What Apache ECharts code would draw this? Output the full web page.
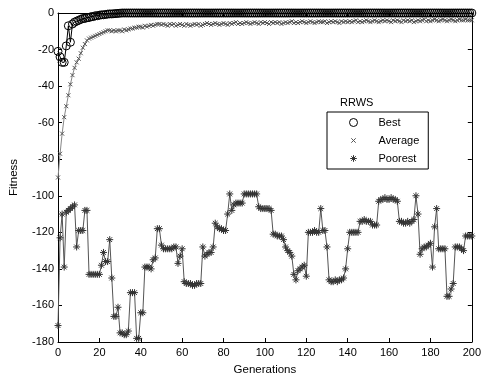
<!DOCTYPE html>
<html>
<head>
<meta charset="utf-8">
<script src="https://cdn.jsdelivr.net/npm/echarts@6/dist/echarts.min.js"></script>
<style>
html, body { margin: 0; padding: 0; background: #fff; }
#chart { width: 484px; height: 381px; }
</style>
</head>
<body>
<div id="chart"></div>
<script>
// generations 0..200, one value per generation
var best = [
	-21, -24, -27, -27, -18, -7, -16, -6, -5, -4.5, -4, -3.5, -3, -3, -2.5, -2.5, -2, -2, -1.5, -1.5,
	-1.2, -1, -1, -0.8, -0.6, -0.5, -0.5, -0.4, -0.3, -0.2, -0.1, 0, 0, 0, 0, 0, 0, 0, 0, 0,
	0, 0, 0, 0, 0, 0, 0, 0, 0, 0, 0, 0, 0, 0, 0, 0, 0, 0, 0, 0,
	0, 0, 0, 0, 0, 0, 0, 0, 0, 0, 0, 0, 0, 0, 0, 0, 0, 0, 0, 0,
	0, 0, 0, 0, 0, 0, 0, 0, 0, 0, 0, 0, 0, 0, 0, 0, 0, 0, 0, 0,
	0, 0, 0, 0, 0, 0, 0, 0, 0, 0, 0, 0, 0, 0, 0, 0, 0, 0, 0, 0,
	0, 0, 0, 0, 0, 0, 0, 0, 0, 0, 0, 0, 0, 0, 0, 0, 0, 0, 0, 0,
	0, 0, 0, 0, 0, 0, 0, 0, 0, 0, 0, 0, 0, 0, 0, 0, 0, 0, 0, 0,
	0, 0, 0, 0, 0, 0, 0, 0, 0, 0, 0, 0, 0, 0, 0, 0, 0, 0, 0, 0,
	0, 0, 0, 0, 0, 0, 0, 0, 0, 0, 0, 0, 0, 0, 0, 0, 0, 0, 0, 0,
	0
];
var average = [
	-90, -77, -66, -57, -51, -45, -39, -34, -30, -27, -25, -22, -19, -17, -15, -14, -13.5, -13, -12.5, -12,
	-11.5, -11, -10.5, -10, -9.5, -9.5, -10, -9.5, -10, -9.5, -9.5, -10, -9, -9.5, -9, -8.5, -8.5, -8, -8, -7.5,
	-7.5, -8, -7, -7.5, -7, -6.5, -7, -6.5, -6, -6, -6.5, -6, -6.5, -7, -6, -6.5, -6, -7, -6.5, -6,
	-6.5, -7, -6, -6.5, -7, -6.5, -6, -6.5, -6, -7, -6.5, -6, -5.5, -6, -6.5, -6, -5.5, -6, -6.5, -6,
	-5.5, -6, -6.5, -5.5, -6, -5.5, -5, -6, -5.5, -6, -5.5, -5, -5.5, -6, -5.5, -5, -5.5, -6, -5, -5.5,
	-5, -5.5, -6, -5, -5.5, -5, -5.5, -5, -6, -5.5, -5, -5.5, -5, -4.5, -5.5, -5, -5.5, -5, -4.5, -5,
	-5.5, -5, -4.5, -5, -5.5, -5, -4.5, -5, -5, -4.5, -5.5, -5, -4.5, -5, -4.5, -5, -5.5, -4.5, -5, -4.5,
	-5, -4.5, -5, -4.5, -4, -5, -4.5, -5, -4.5, -4, -4.5, -5, -4.5, -4, -4.5, -5, -4.5, -4, -4.5, -4,
	-4.5, -5, -4, -4.5, -4, -4.5, -5, -4, -4.5, -4, -4.5, -4, -5, -4.5, -4, -4.5, -4, -3.5, -4.5, -4,
	-4.5, -4, -3.5, -4, -4.5, -4, -3.5, -4, -4.5, -4, -3.5, -4, -4.5, -4, -3.5, -4, -4, -3.5, -4, -4,
	-4
];
var poorest = [
	-171, -123, -110, -139, -109, -108, -107, -106, -105, -128, -119, -119, -119, -108, -108, -143, -143, -143, -143, -143,
	-143, -138, -131, -136, -136, -124, -145, -166, -166, -161, -175, -175, -176, -176, -174, -153, -153, -153, -178, -178,
	-164, -164, -139, -139, -139, -140, -135, -134, -118, -118, -127, -129, -129, -129, -129, -129, -128, -128, -137, -133,
	-129, -147, -148, -148, -148, -149, -149, -148, -148, -148, -128, -133, -132, -131, -131, -128, -115, -117, -118, -118,
	-119, -119, -110, -99, -108, -105, -104, -104, -104, -104, -99, -99, -99, -99, -99, -99, -99, -106, -107, -107,
	-107, -107, -107, -108, -121, -121, -122, -122, -122, -124, -128, -130, -131, -133, -143, -146, -141, -140, -139, -138,
	-144, -120, -120, -120, -119, -120, -120, -107, -119, -119, -128, -146, -147, -147, -146, -147, -146, -146, -145, -140,
	-129, -120, -120, -120, -120, -120, -114, -114, -113, -114, -114, -114, -116, -116, -116, -103, -102, -102, -101, -102,
	-102, -101, -102, -102, -103, -114, -114, -115, -115, -114, -115, -114, -113, -100, -110, -132, -129, -128, -128, -127,
	-126, -139, -117, -107, -129, -129, -129, -129, -155, -155, -151, -148, -128, -128, -128, -129, -130, -122, -122, -122,
	-122
];
var seriesNames = ['Best', 'Average', 'Poorest'];
var xTicks = { min: 0, max: 200, step: 20 };
var yTicks = { min: -180, max: 0, step: 20 };

var font = 'Liberation Sans, Arial, sans-serif';
var crossPath = 'path://M0,0L10,10M0,10L10,0';
var starPath = 'path://M5,0L5,10M0,5L10,5M1.6,1.6L8.4,8.4M8.4,1.6L1.6,8.4';
// same marks for the legend, with empty moves around them so they come out smaller
var crossIcon = 'path://M-4,-4M14,14M0,0L10,10M0,10L10,0';
var starIcon = 'path://M-1,-1M11,11M5,0L5,10M0,5L10,5M1.6,1.6L8.4,8.4M8.4,1.6L1.6,8.4';

function pairs(arr) {
	return arr.map(function (v, i) { return [i, v]; });
}

var myChart = echarts.init(document.getElementById('chart'), null, { renderer: 'canvas' });

function boxAxis(pos, isX, show) {
	var t = isX ? xTicks : yTicks;
	return {
		type: 'value',
		position: pos,
		min: t.min,
		max: t.max,
		interval: t.step,
		axisLine: { show: true, onZero: false, lineStyle: { color: '#000', width: 1 } },
		axisTick: { show: true, inside: true, length: 4, lineStyle: { color: '#000' } },
		axisLabel: { show: show, color: '#000', fontSize: 11, fontFamily: font, margin: 4 },
		splitLine: { show: false }
	};
}

var xBottom = boxAxis('bottom', true, true);
xBottom.name = 'Generations';
xBottom.nameLocation = 'middle';
xBottom.nameGap = 22;
xBottom.nameTextStyle = { color: '#000', fontSize: 11.5, fontFamily: font };
xBottom.axisLabel.margin = 5;

var yLeft = boxAxis('left', false, true);
yLeft.name = 'Fitness';
yLeft.nameLocation = 'middle';
yLeft.nameGap = 38;
yLeft.nameTextStyle = { color: '#000', fontSize: 11.5, fontFamily: font };

var option = {
	animation: false,
	backgroundColor: '#fff',
	title: {
		text: 'RRWS',
		left: 340,
		top: 97,
		padding: 0,
		textStyle: { color: '#000', fontSize: 11, fontWeight: 'normal', fontFamily: font }
	},
	grid: { left: 56, right: 12, top: 13, bottom: 38 },
	xAxis: [xBottom, boxAxis('top', true, false)],
	yAxis: [yLeft, boxAxis('right', false, false)],
	legend: {
		orient: 'vertical',
		left: 327,
		top: 112,
		padding: [4, 9, 4, 22],
		itemGap: 5,
		itemWidth: 40,
		itemHeight: 8,
		borderColor: '#000',
		borderWidth: 1,
		borderRadius: 0,
		backgroundColor: '#fff',
		textStyle: { color: '#000', fontSize: 11, fontFamily: font, lineHeight: 13 },
		data: [
			{ name: seriesNames[0], icon: 'circle', itemStyle: { color: 'transparent', borderColor: '#000', borderWidth: 1 } },
			{ name: seriesNames[1], icon: crossIcon, itemStyle: { color: 'transparent', borderColor: '#555', borderWidth: 1 } },
			{ name: seriesNames[2], icon: starIcon, itemStyle: { color: 'transparent', borderColor: '#333', borderWidth: 1 } }
		]
	},
	series: [{
		name: seriesNames[2],
		type: 'line',
		data: pairs(poorest),
		symbol: starPath,
		symbolSize: 7,
		showAllSymbol: true,
		lineStyle: { color: '#555', width: 1 },
		itemStyle: { color: 'transparent', borderColor: '#333', borderWidth: 1 },
		z: 2
	}, {
		name: seriesNames[1],
		type: 'line',
		data: pairs(average),
		symbol: crossPath,
		symbolSize: 4,
		showAllSymbol: true,
		lineStyle: { color: '#888', width: 1 },
		itemStyle: { color: 'transparent', borderColor: '#555', borderWidth: 1 },
		z: 3
	}, {
		name: seriesNames[0],
		type: 'line',
		data: pairs(best),
		symbol: 'circle',
		symbolSize: 8,
		showAllSymbol: true,
		lineStyle: { color: '#000', width: 1 },
		itemStyle: { color: 'transparent', borderColor: '#000', borderWidth: 1 },
		z: 4
	}]
};

myChart.setOption(option);
</script>
</body>
</html>
